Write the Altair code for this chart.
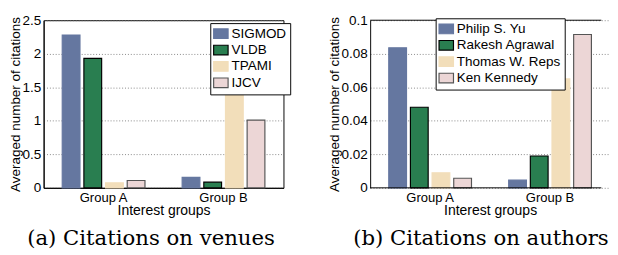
import altair as alt
import pandas as pd

groups = ["Group A", "Group B"]

venues = ["SIGMOD", "VLDB", "TPAMI", "IJCV"]
venue_a = [2.28, 1.93, 0.075, 0.11]
venue_b = [0.155, 0.085, 1.44, 1.01]

authors = ["Philip S. Yu", "Rakesh Agrawal", "Thomas W. Reps", "Ken Kennedy"]
author_a = [0.0836, 0.0481, 0.0090, 0.0057]
author_b = [0.0046, 0.0190, 0.0650, 0.0915]

fills = ["#6577A0", "#297E50", "#F2DEBA", "#ECD6D6"]
strokes = ["#6577A0", "#000000", "#F2DEBA", "#555555"]

FONT = "Liberation Sans"
RECT = "M-1.5,-1H1.5V1H-1.5Z"

PW = 249
PH = 174


def make_df(series, a_vals, b_vals):
    return pd.DataFrame({
        "group": [g for g in groups for _ in series],
        "series": list(series) * 2,
        "value": list(a_vals) + list(b_vals),
    })


def bars(df, series, ymax, ystep, fmt, lx, ly, xscale_range=None):
    ticks = [round(i * ystep, 6) for i in range(int(round(ymax / ystep)) + 1)]
    xs = dict(domain=groups, paddingInner=0.31, paddingOuter=0.155)
    if xscale_range is not None:
        xs["range"] = xscale_range
    return alt.Chart(df).mark_bar(strokeWidth=1.2).encode(
        x=alt.X("group:N", scale=alt.Scale(**xs),
                axis=alt.Axis(title="Interest groups", labelAngle=0, ticks=False,
                              domain=xscale_range is None, domainColor="black",
                              labelFont=FONT, labelFontSize=13.5, labelColor="black",
                              labelPadding=3, titleFont=FONT, titleFontSize=14.5,
                              titleFontWeight="normal", titleColor="black",
                              titlePadding=0)),
        xOffset=alt.XOffset("series:N", sort=series,
                            scale=alt.Scale(domain=series, paddingInner=0.18)),
        y=alt.Y("value:Q", scale=alt.Scale(domain=[0, ymax], nice=False),
                axis=alt.Axis(title="Averaged number of citations", values=ticks,
                              format=fmt, ticks=False, domainColor="black",
                              grid=True, gridDash=[1, 2], gridColor="#666666",
                              gridWidth=0.8,
                              labelFont=FONT, labelFontSize=14, labelColor="black",
                              labelPadding=3, titleFont=FONT, titleFontSize=14,
                              titleFontWeight="normal", titleColor="black",
                              titlePadding=0)),
        fill=alt.Fill("series:N", sort=series,
                      scale=alt.Scale(domain=series, range=fills),
                      legend=alt.Legend(orient="none", legendX=lx, legendY=ly,
                                        title=None, fillColor="white",
                                        strokeColor="black", padding=4,
                                        symbolType=RECT, symbolSize=100,
                                        symbolStrokeWidth=1.2, labelOffset=4,
                                        rowPadding=1, labelFont=FONT,
                                        labelFontSize=14, labelColor="black")),
        stroke=alt.Stroke("series:N", sort=series,
                          scale=alt.Scale(domain=series, range=strokes)),
    )


def caption(text, dx):
    return alt.TitleParams(text, orient="bottom", font="DejaVu Serif",
                           fontSize=22, fontWeight="normal", color="black",
                           offset=12, dx=dx)


left = bars(make_df(venues, venue_a, venue_b), venues, 2.5, 0.5, ".1~f", 173, 3).properties(
    width=PW, height=PH, title=caption("(a) Citations on venues", -13),
    view=alt.ViewBackground(stroke="black", strokeWidth=1),
)

RW = 240
right_bars = bars(make_df(authors, author_a, author_b), authors, 0.1, 0.02, ".2~f", 68, -2,
                  xscale_range=[0, PW])
frame_df = pd.DataFrame({"k": [0]})
top_rule = alt.Chart(frame_df).mark_rule(color="black", strokeWidth=1).encode(
    x=alt.value(0), x2=alt.value(RW), y=alt.value(0))
bottom_rule = alt.Chart(frame_df).mark_rule(color="black", strokeWidth=1).encode(
    x=alt.value(0), x2=alt.value(RW), y=alt.value(PH))

right = alt.layer(right_bars, top_rule, bottom_rule).properties(
    width=RW, height=PH, title=caption("(b) Citations on authors", -5),
    view=alt.ViewBackground(stroke="transparent", strokeWidth=0),
)

chart = alt.hconcat(left, right, spacing=37).resolve_scale(
    x="independent", y="independent", xOffset="independent",
    fill="independent", stroke="independent",
).resolve_legend(fill="independent", stroke="independent").resolve_axis(
    x="independent", y="independent"
).configure(
    padding=0, background="white"
).configure_view(strokeWidth=1)

chart.save("out.html", embed_options={"renderer": "svg", "actions": False})
